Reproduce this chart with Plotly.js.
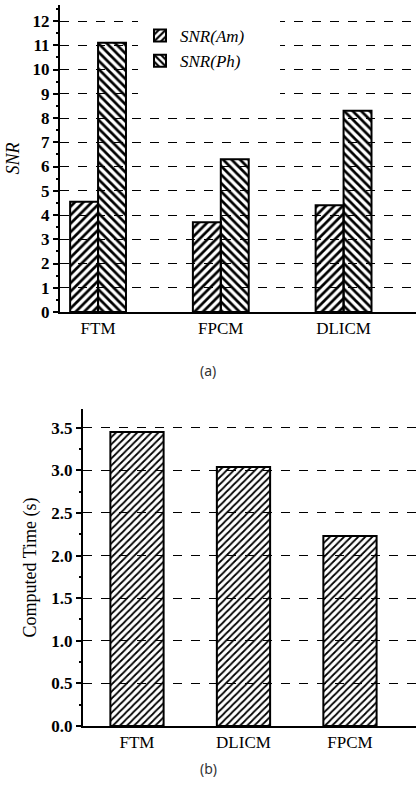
<!DOCTYPE html>
<html><head><meta charset="utf-8">
<script src="https://cdn.plot.ly/plotly-3.0.1.min.js"></script>
<style>html,body{margin:0;padding:0;background:#fff}#c{width:416px;height:791px}</style>
</head><body><div id="c"></div>
<script>
const catsA = ['FTM', 'FPCM', 'DLICM'];
const snrAm = [4.55, 3.7, 4.4];
const snrPh = [11.1, 6.3, 8.3];
const catsB = ['FTM', 'DLICM', 'FPCM'];
const timeB = [3.45, 3.04, 2.23];

const serif = 'Liberation Serif';
const line = {color: '#000', width: 2};
const clear = 'rgba(255,255,255,0)';

const traces = [
  {type: 'bar', x: catsA, y: snrAm, name: 'SNR(Am)', xaxis: 'x', yaxis: 'y',
   marker: {color: clear, line: line,
     pattern: {shape: '/', fgcolor: '#000', bgcolor: clear, size: 6, solidity: 0.45}}},
  {type: 'bar', x: catsA, y: snrPh, name: 'SNR(Ph)', xaxis: 'x', yaxis: 'y',
   marker: {color: clear, line: line,
     pattern: {shape: '\\', fgcolor: '#000', bgcolor: clear, size: 6, solidity: 0.45}}},
  {type: 'bar', x: catsB, y: timeB, name: 'time', xaxis: 'x2', yaxis: 'y2', showlegend: false, width: 0.5,
   marker: {color: clear, line: line,
     pattern: {shape: '/', fgcolor: '#000', bgcolor: clear, size: 5, solidity: 0.35}}}
];

const H = 791, W = 416;
const layout = {
  width: W, height: H, margin: {l: 0, r: 0, t: 0, b: 0},
  paper_bgcolor: '#fff', plot_bgcolor: '#fff',
  barmode: 'group', bargap: 0.545, bargroupgap: 0,
  showlegend: true,
  legend: {x: 140/W, y: (H-18)/H, xanchor: 'left', yanchor: 'top', bgcolor: '#fff',
    font: {family: serif, size: 17, color: '#000', style: 'italic'}, tracegroupgap: 0},
  xaxis: {domain: [60/W, 1], range: [-0.31, 2.59], anchor: 'y', showline: true, linecolor: '#000', linewidth: 2,
    ticks: '', tickfont: {family: serif, size: 17, color: '#000'}, showgrid: false, zeroline: false},
  yaxis: {domain: [(H-312)/H, (H-5)/H], range: [0, 12.66], anchor: 'x', showline: true, linecolor: '#000', linewidth: 2,
    ticks: 'outside', ticklen: 5, tickwidth: 2, tickcolor: '#000', dtick: 1,
    minor: {dtick: 0.5, ticks: 'outside', ticklen: 2, tickcolor: '#000'},
    tickfont: {family: serif, size: 17, color: '#000', weight: 700},
    showgrid: true, gridcolor: '#000', griddash: 'dash', gridwidth: 1, zeroline: false,
    title: {text: 'SNR', font: {family: serif, size: 18, color: '#000', style: 'italic'}, standoff: 8}},
  xaxis2: {domain: [83/W, 1], range: [-0.507, 2.62], anchor: 'y2', showline: true, linecolor: '#000', linewidth: 2,
    ticks: '', tickfont: {family: serif, size: 17, color: '#000'}, showgrid: false, zeroline: false},
  yaxis2: {domain: [(H-726)/H, (H-409)/H], range: [0, 3.72], anchor: 'x2', showline: true, linecolor: '#000', linewidth: 2,
    ticks: 'outside', ticklen: 5, tickwidth: 2, tickcolor: '#000', dtick: 0.5, tickformat: '.1f',
    minor: {dtick: 0.25, ticks: 'outside', ticklen: 2, tickcolor: '#000'},
    tickfont: {family: serif, size: 17, color: '#000', weight: 700},
    showgrid: true, gridcolor: '#000', griddash: 'dash', gridwidth: 1, zeroline: false,
    title: {text: 'Computed Time (s)', font: {family: serif, size: 18, color: '#000'}, standoff: 10}},
  shapes: [
    {type: 'rect', xref: 'paper', yref: 'paper', x0: 138/W, x1: 280/W, y0: (H-100)/H, y1: (H-12)/H,
     fillcolor: '#fff', line: {width: 0}, layer: 'above'}
  ],
  annotations: [
    {text: '(a)', xref: 'paper', yref: 'paper', x: 208/W, y: (H-370)/H, showarrow: false,
     font: {family: 'Noto Sans', size: 14, color: '#333'}},
    {text: '(b)', xref: 'paper', yref: 'paper', x: 208/W, y: (H-780)/H, showarrow: false,
     font: {family: 'Noto Sans', size: 14, color: '#333'}}
  ]
};
Plotly.newPlot('c', traces, layout, {displayModeBar: false, staticPlot: true});
</script>
</body></html>
